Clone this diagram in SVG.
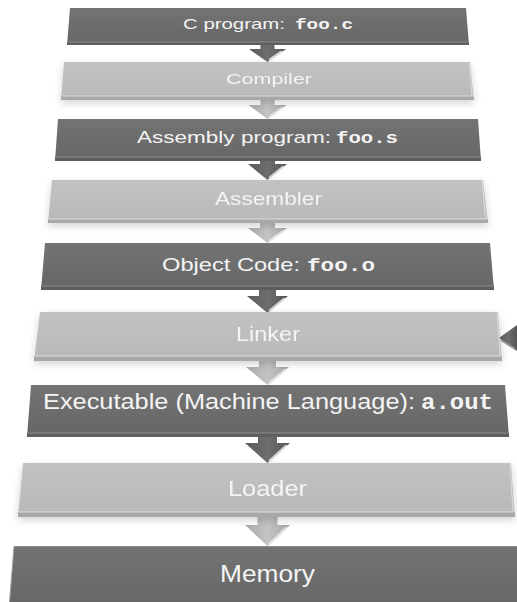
<svg xmlns="http://www.w3.org/2000/svg" width="517" height="602" viewBox="0 0 517 602">
<defs>
<linearGradient id="gDark" x1="0" y1="0" x2="0" y2="1">
<stop offset="0" stop-color="#737373"/><stop offset="1" stop-color="#666666"/>
</linearGradient>
<linearGradient id="gLight" x1="0" y1="0" x2="0" y2="1">
<stop offset="0" stop-color="#c2c2c2"/><stop offset="1" stop-color="#b8b8b8"/>
</linearGradient>
<linearGradient id="aDark" x1="0" y1="0" x2="1" y2="0">
<stop offset="0" stop-color="#595959"/><stop offset="0.5" stop-color="#6e6e6e"/><stop offset="1" stop-color="#555555"/>
</linearGradient>
<linearGradient id="aLight" x1="0" y1="0" x2="1" y2="0">
<stop offset="0" stop-color="#a9a9a9"/><stop offset="0.5" stop-color="#c4c4c4"/><stop offset="1" stop-color="#a5a5a5"/>
</linearGradient>
<filter id="sh" x="-10%" y="-40%" width="120%" height="190%">
<feGaussianBlur in="SourceAlpha" stdDeviation="4"/>
<feOffset dy="3" result="b"/>
<feComponentTransfer><feFuncA type="linear" slope="0.18"/></feComponentTransfer>
<feMerge><feMergeNode/><feMergeNode in="SourceGraphic"/></feMerge>
</filter>
</defs>
<style>
.dark{fill:url(#gDark)}
.light{fill:url(#gLight)}
.dbev{fill:#5e5e5e}
.lbev{fill:#a8a8a8}
.dhl{stroke:#8c8c8c;stroke-width:1;fill:none}
.lhl{stroke:#dcdcdc;stroke-width:1;fill:none}
.t{font-family:"Liberation Sans",Arial,sans-serif;fill:#f4f4f4}
.m{font-family:"Liberation Mono","Courier New",monospace;font-weight:bold;fill:#f4f4f4}
.ad{fill:url(#aDark)}
.al{fill:url(#aLight)}
.shine{stroke:#e6e6e6;stroke-width:2.5;stroke-linecap:round;fill:none;opacity:0.85}
</style>

<g id="connectors">
<path class="ad" d="M260.5 40 L274.5 40 L274.5 49 L286 49 L267.5 62 L249 49 L260.5 49 Z"/>
<path class="shine" d="M281 52 L270 59.5"/>
<path class="al" d="M260.5 95 L274.5 95 L274.5 105 L286.5 105 L267.5 119 L248.5 105 L260.5 105 Z"/>
<path class="shine" d="M282 108 L270 116.5"/>
<path class="ad" d="M260 156 L275 156 L275 164 L287 164 L267.5 180 L248 164 L260 164 Z"/>
<path class="shine" d="M283 167 L270 177.5"/>
<path class="al" d="M260 218 L275 218 L275 228 L287 228 L267.5 243 L248 228 L260 228 Z"/>
<path class="shine" d="M283 231 L270 240.5"/>
<path class="ad" d="M259 285 L276 285 L276 296 L288 296 L267.5 313 L247 296 L259 296 Z"/>
<path class="shine" d="M284 299 L270 310.5"/>
<path class="al" d="M259 356 L276 356 L276 367 L289 367 L267.5 385 L246 367 L259 367 Z"/>
<path class="shine" d="M285 370 L270 382.5"/>
<path class="ad" d="M258 432 L277 432 L277 443 L290 443 L267.5 463 L245 443 L258 443 Z"/>
<path class="shine" d="M286 446 L270 460.5"/>
<path class="al" d="M257.5 512 L277.5 512 L277.5 525 L290 525 L267.5 546 L245 525 L257.5 525 Z"/>
<path class="shine" d="M286 528 L270 543.5"/>
<path class="ad" d="M499 338 L517 325 L517 351 Z"/>
<path d="M501 340 L515 349" stroke="#999" stroke-width="2" fill="none"/>
</g>

<g id="n1">
<polygon class="dark" points="70,8 466,8 469,45 67,45"/>
<polygon class="dbev" points="67,42 469,42 469,45 67,45"/>
<line class="dhl" x1="67.5" y1="42" x2="468.5" y2="42"/>
<text class="t" y="29" font-size="15"><tspan x="183" textLength="102" lengthAdjust="spacingAndGlyphs">C program:</tspan><tspan class="m" x="295" textLength="58" lengthAdjust="spacingAndGlyphs">foo.c</tspan></text>
</g>

<g id="n2" filter="url(#sh)">
<polygon class="light" points="64,62 470,62 474,100 61,100"/>
<polygon class="lbev" points="61,96 474,96 474,100 61,100"/>
<line class="lhl" x1="61.5" y1="96" x2="473.5" y2="96"/>
<line class="lhl" x1="469" y1="63" x2="472" y2="96"/>
<text class="t" y="84" font-size="15.5" x="226" textLength="86" lengthAdjust="spacingAndGlyphs">Compiler</text>
</g>

<g id="n3">
<polygon class="dark" points="58,119 478,119 481,161 55,161"/>
<polygon class="dbev" points="55,157 481,157 481,161 55,161"/>
<line class="dhl" x1="55.5" y1="157" x2="480.5" y2="157"/>
<text class="t" y="143" font-size="17"><tspan x="137" textLength="194" lengthAdjust="spacingAndGlyphs">Assembly program:</tspan><tspan class="m" x="336" textLength="62" lengthAdjust="spacingAndGlyphs">foo.s</tspan></text>
</g>

<g id="n4" filter="url(#sh)">
<polygon class="light" points="52,180 483,180 488,223 48,223"/>
<polygon class="lbev" points="48,219 488,219 488,223 48,223"/>
<line class="lhl" x1="48.5" y1="219" x2="487.5" y2="219"/>
<line class="lhl" x1="482" y1="181" x2="485.5" y2="219"/>
<text class="t" y="205" font-size="18" x="215" textLength="107" lengthAdjust="spacingAndGlyphs">Assembler</text>
</g>

<g id="n5">
<polygon class="dark" points="45,243 490,243 494,290 41,290"/>
<polygon class="dbev" points="41,286 494,286 494,290 41,290"/>
<line class="dhl" x1="41.5" y1="286" x2="493.5" y2="286"/>
<text class="t" y="270.5" font-size="19"><tspan x="162" textLength="138" lengthAdjust="spacingAndGlyphs">Object Code:</tspan><tspan class="m" x="307" textLength="68" lengthAdjust="spacingAndGlyphs">foo.o</tspan></text>
</g>

<g id="n6" filter="url(#sh)">
<polygon class="light" points="40,312 498,312 502,361 34,361"/>
<polygon class="lbev" points="34,356 502,356 502,361 34,361"/>
<line class="lhl" x1="34.5" y1="356" x2="501.5" y2="356"/>
<line class="lhl" x1="497" y1="313" x2="500" y2="356"/>
<text class="t" y="341" font-size="20" x="236" textLength="64" lengthAdjust="spacingAndGlyphs">Linker</text>
</g>

<g id="n7">
<polygon class="dark" points="31,385 505,385 509,437 27,437"/>
<polygon class="dbev" points="27,433 509,433 509,437 27,437"/>
<line class="dhl" x1="27.5" y1="433" x2="508.5" y2="433"/>
<text class="t" y="408.5" font-size="22"><tspan x="43" textLength="372" lengthAdjust="spacingAndGlyphs">Executable (Machine Language):</tspan><tspan class="m" x="421" textLength="72" lengthAdjust="spacingAndGlyphs">a.out</tspan></text>
</g>

<g id="n8" filter="url(#sh)">
<polygon class="light" points="23,463 511,463 515,517 18,517"/>
<polygon class="lbev" points="18,512 515,512 515,517 18,517"/>
<line class="lhl" x1="18.5" y1="512" x2="514.5" y2="512"/>
<line class="lhl" x1="510" y1="464" x2="513" y2="512"/>
<text class="t" y="495.5" font-size="22" x="228" textLength="79" lengthAdjust="spacingAndGlyphs">Loader</text>
</g>

<g id="n9">
<polygon class="dark" points="14,546 520,546 524,610 9,610"/>
<line x1="14" y1="546.5" x2="520" y2="546.5" stroke="#8a8a8a" stroke-width="1"/>
<line x1="14" y1="547" x2="9.5" y2="602" stroke="#9a9a9a" stroke-width="1"/>
<text class="t" y="581.5" font-size="23" x="220" textLength="95" lengthAdjust="spacingAndGlyphs">Memory</text>
</g>
</svg>
